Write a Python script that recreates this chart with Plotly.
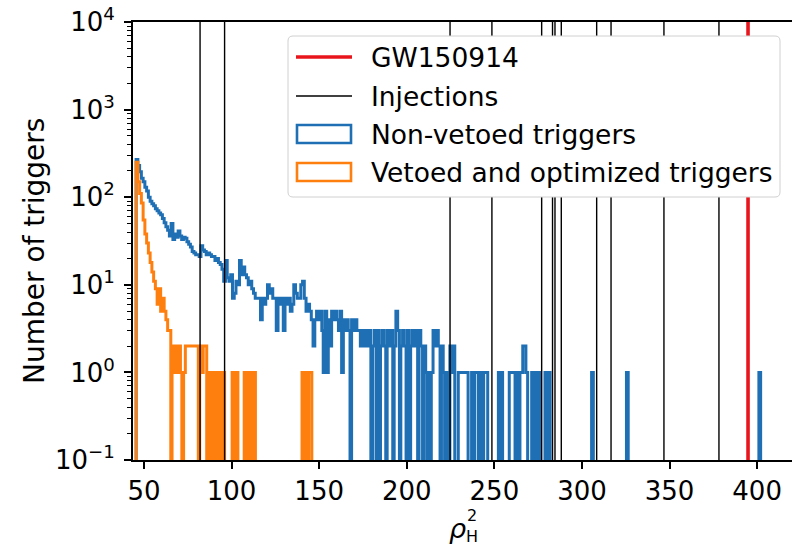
import plotly.graph_objects as go

# ---------------- data ----------------
injections = [82.0, 96.0, 224.7, 248.6, 277.0, 283.2, 284.6, 288.2, 308.4, 316.6, 346.8, 378.2]
gw150914 = 394.8

# step-histogram outlines: left edge of each run and the count in that run (0 = empty)
blue_edges = [45.5, 46.5, 47.5, 48.5, 49.5, 50.5, 51.5, 52.5, 53.5, 54.5, 55.5, 56.5, 57.5, 58.5, 59.5,
              60.5, 61.5, 62.5, 63.5, 64.5, 65.5, 66.5, 67.5, 68.5, 69.5, 70.5, 71.5, 72.5, 73.5, 74.5,
              75.5, 76.5, 77.5, 78.5, 79.5, 80.5, 81.5, 82.5, 83.5, 84.5, 85.5, 86.5, 87.5, 88.5, 89.5,
              90.5, 91.5, 92.5, 93.5, 94.5, 95.5, 96.5, 97.5, 98.5, 99.5, 100.5, 101.5, 102.5, 103.5, 104.5,
              105.5, 106.5, 107.5, 108.5, 109.5, 110.5, 111.5, 112.5, 113.5, 114.5, 115.5, 116.5, 117.5, 118.5, 119.5,
              120.5, 121.5, 122.5, 123.5, 124.5, 125.5, 126.5, 127.5, 128.5, 129.5, 130.5, 131.5, 132.5, 133.5, 134.5,
              135.5, 136.5, 137.5, 138.5, 139.5, 140.5, 141.5, 142.5, 143.5, 144.5, 145.5, 146.5, 147.5, 148.5, 149.5,
              150.5, 151.5, 152.3, 153.3, 154.3, 155.2, 156.2, 157.1, 158.1, 159.0, 160.0, 161.0, 161.9, 162.8, 163.8,
              164.8, 165.7, 166.6, 167.6, 168.5, 169.5, 170.5, 171.5, 172.5, 173.5, 174.5, 175.5, 176.5, 177.5, 178.5,
              179.5, 180.5, 181.5, 182.5, 183.3, 184.2, 185.0, 186.0, 187.0, 188.0, 188.8, 190.0, 191.0, 192.0, 192.8,
              193.8, 194.8, 195.8, 196.6, 197.6, 198.6, 199.6, 200.4, 201.4, 202.2, 203.2, 204.2, 205.2, 206.2, 207.0,
              208.0, 209.0, 209.8, 210.8, 211.6, 212.4, 213.2, 214.0, 215.0, 216.0, 217.0, 218.0, 219.0, 219.8, 220.8,
              221.6, 222.4, 223.4, 224.6, 225.6, 226.4, 227.4, 229.4, 235.0, 237.0, 238.0, 238.8, 240.9, 242.2, 243.2,
              243.9, 246.2, 252.3, 253.2, 253.8, 254.7, 258.5, 261.8, 263.0, 264.0, 264.6, 266.2, 268.0, 269.0, 271.3,
              272.2, 272.9, 274.0, 274.7, 276.4, 278.9, 279.8, 280.5, 281.8, 305.5, 306.5, 325.4, 326.4, 401.0, 402.0]
blue_counts = [270, 230, 195, 165, 150, 130, 118, 100, 90, 84, 80, 74, 70, 66, 63,
               57, 51, 46, 42, 36, 50, 33, 38, 35, 41, 36, 33, 35, 34, 31,
               29, 27, 24, 23, 22, 22, 21, 28, 25, 24, 22, 23, 22, 21, 21,
               19, 20, 18, 17, 15, 11, 19, 12, 11, 13, 7, 8, 11, 10, 19,
               13, 16, 13, 12, 10, 11, 9, 8, 7, 7, 7, 4, 7, 6, 7,
               10, 8, 9, 7, 7, 3, 7, 6, 7, 3, 7, 6, 7, 5, 6,
               10, 8, 7, 7, 10, 11, 7, 5, 6, 5, 4, 2, 4, 5, 4,
               5, 3, 1, 5, 1, 4, 2, 5, 4, 5, 4, 3, 5, 1, 4,
               3, 4, 3, 0, 4, 3, 4, 3, 3, 2, 3, 2, 3, 2, 3,
               0, 2, 3, 0, 3, 0, 2, 3, 2, 0, 3, 2, 3, 0, 2,
               5, 3, 0, 2, 3, 2, 0, 3, 0, 2, 3, 2, 3, 0, 3,
               2, 0, 2, 1, 0, 1, 0, 1, 3, 2, 3, 2, 0, 2, 1,
               0, 1, 0, 2, 1, 2, 0, 1, 0, 1, 0, 1, 0, 1, 0,
               1, 0, 1, 0, 1, 0, 1, 0, 1, 0, 1, 2, 1, 0, 1,
               0, 1, 0, 1, 0, 1, 0, 1, 0, 1, 0, 1, 0, 1, 0]

orange_edges = [45.5, 46.5, 47.5, 48.5, 49.5, 50.5, 51.5, 52.5, 53.5, 54.5, 55.5, 56.5, 57.5, 58.5, 59.5,
                60.5, 61.5, 62.5, 63.5, 64.5, 65.3, 66.0, 67.2, 67.8, 69.2, 69.8, 70.8, 71.6, 72.6, 73.6,
                81.0, 81.8, 83.2, 83.8, 85.8, 87.0, 87.8, 88.4, 89.4, 90.0, 91.0, 91.6, 92.6, 93.2, 94.2,
                94.8, 96.0, 100.3, 101.4, 102.0, 103.6, 107.2, 108.2, 108.7, 109.5, 110.9, 111.8, 112.4, 113.6, 140.2,
                141.4, 142.0, 142.8, 144.0, 145.8]
orange_counts = [250, 150, 110, 86, 55, 38, 30, 23, 18, 14, 11, 9, 6, 9, 5,
                 7, 5, 4, 3, 3, 0, 2, 1, 2, 1, 2, 1, 0, 1, 2,
                 0, 2, 1, 2, 0, 1, 0, 1, 0, 1, 0, 1, 0, 1, 0,
                 1, 0, 1, 0, 1, 0, 1, 0, 1, 0, 1, 0, 1, 0, 1,
                 0, 1, 0, 1, 0]

x_ticks = [50, 100, 150, 200, 250, 300, 350, 400]
y_ticks = [0.1, 1, 10, 100, 1000, 10000]
y_tick_text = ["10<sup>\u22121</sup>", "10<sup>0</sup>", "10<sup>1</sup>", "10<sup>2</sup>",
               "10<sup>3</sup>", "10<sup>4</sup>"]
x_range = [43.72, 419.9]
y_range_log = [-1, 4]

legend_labels = ["GW150914", "Injections", "Non-vetoed triggers", "Vetoed and optimized triggers"]

BLUE = "#1f6fb4"
ORANGE = "#ff7f0e"
RED = "#e8161c"
FONT = "DejaVu Sans"

# ---------------- layout geometry (pixels) ----------------
W, H = 792, 546
ML, MR, MT, MB = 133, 0, 22, 86
PW, PH = W - ML - MR, H - MT - MB


def pxx(x):
    return (x - ML) / PW


def pxy(y):
    return (H - MB - y) / PH


FLOOR = 1e-3  # below the visible range, so empty bins run along the bottom (clipped)


def step_xy(edges, counts):
    xs = [edges[0]] + list(edges)
    ys = [FLOOR] + [c if c > 0 else FLOOR for c in counts]
    return xs, ys


fig = go.Figure()

bx, by = step_xy(blue_edges, blue_counts)
fig.add_trace(go.Scatter(x=bx, y=by, mode="lines", line=dict(color=BLUE, width=3, shape="hv"),
                         showlegend=False, hoverinfo="skip"))
ox, oy = step_xy(orange_edges, orange_counts)
fig.add_trace(go.Scatter(x=ox, y=oy, mode="lines", line=dict(color=ORANGE, width=3, shape="hv"),
                         showlegend=False, hoverinfo="skip"))

ix, iy = [], []
for v in injections:
    ix += [v, v, None]
    iy += [FLOOR, 1e6, None]
fig.add_trace(go.Scatter(x=ix, y=iy, mode="lines", line=dict(color="black", width=1.4),
                         showlegend=False, hoverinfo="skip"))
fig.add_trace(go.Scatter(x=[gw150914, gw150914], y=[FLOOR, 1e6], mode="lines",
                         line=dict(color=RED, width=3.6), showlegend=False, hoverinfo="skip"))

# ---------------- manual legend ----------------
lx0, lx1, ly0, ly1, r = 288, 780, 36, 197, 5
pts = (f"M {pxx(lx0 + r)},{pxy(ly0)} L {pxx(lx1 - r)},{pxy(ly0)} "
       f"Q {pxx(lx1)},{pxy(ly0)} {pxx(lx1)},{pxy(ly0 + r)} "
       f"L {pxx(lx1)},{pxy(ly1 - r)} Q {pxx(lx1)},{pxy(ly1)} {pxx(lx1 - r)},{pxy(ly1)} "
       f"L {pxx(lx0 + r)},{pxy(ly1)} Q {pxx(lx0)},{pxy(ly1)} {pxx(lx0)},{pxy(ly1 - r)} "
       f"L {pxx(lx0)},{pxy(ly0 + r)} Q {pxx(lx0)},{pxy(ly0)} {pxx(lx0 + r)},{pxy(ly0)} Z")
shapes = [dict(type="path", path=pts, xref="paper", yref="paper", fillcolor="white",
               line=dict(color="#d0d0d0", width=1), layer="above")]
shapes.append(dict(type="line", xref="paper", yref="paper", x0=pxx(296), x1=pxx(352), y0=pxy(57), y1=pxy(57),
                   line=dict(color=RED, width=3.6), layer="above"))
shapes.append(dict(type="line", xref="paper", yref="paper", x0=pxx(296), x1=pxx(352), y0=pxy(96), y1=pxy(96),
                   line=dict(color="black", width=1.4), layer="above"))
shapes.append(dict(type="rect", xref="paper", yref="paper", x0=pxx(297), x1=pxx(351), y0=pxy(125), y1=pxy(143),
                   line=dict(color=BLUE, width=2.6), fillcolor="rgba(0,0,0,0)", layer="above"))
shapes.append(dict(type="rect", xref="paper", yref="paper", x0=pxx(297), x1=pxx(351), y0=pxy(163), y1=pxy(181),
                   line=dict(color=ORANGE, width=2.6), fillcolor="rgba(0,0,0,0)", layer="above"))

annotations = []
for lab, yc in zip(legend_labels, [57, 96, 134, 172]):
    annotations.append(dict(text=lab, xref="paper", yref="paper", x=pxx(369), y=pxy(yc),
                            xanchor="left", yanchor="middle", showarrow=False,
                            font=dict(family=FONT, size=26.5, color="black")))

# axis titles
annotations.append(dict(text="Number of triggers", xref="paper", yref="paper", x=pxx(35), y=pxy(251),
                        textangle=-90, xanchor="center", yanchor="middle", showarrow=False,
                        font=dict(family=FONT, size=28, color="black")))
annotations.append(dict(text="<i>\u03c1</i>", xref="paper", yref="paper", x=pxx(457), y=pxy(528),
                        xanchor="center", yanchor="middle", showarrow=False,
                        font=dict(family=FONT, size=27, color="black")))
annotations.append(dict(text="2<br>H", xref="paper", yref="paper", x=pxx(472), y=pxy(526),
                        xanchor="center", yanchor="middle", showarrow=False, align="center",
                        font=dict(family=FONT, size=16, color="black")))

minor_vals = [k * 10 ** e for e in range(-1, 4) for k in range(2, 10)]

fig.update_layout(
    width=W, height=H,
    margin=dict(l=ML, r=MR, t=MT, b=MB, autoexpand=False),
    paper_bgcolor="white", plot_bgcolor="white",
    showlegend=False,
    shapes=shapes, annotations=annotations,
    font=dict(family=FONT, color="black"),
    xaxis=dict(range=x_range, tickmode="array", tickvals=x_ticks, ticks="outside", ticklen=7, tickwidth=1.6,
               tickcolor="black", showline=True, linecolor="black", linewidth=2, mirror=True,
               showgrid=False, zeroline=False, ticklabelstandoff=0,
               tickfont=dict(family=FONT, size=26, color="black")),
    yaxis=dict(type="log", range=y_range_log, tickmode="array", tickvals=y_ticks, ticktext=y_tick_text,
               ticks="outside", ticklen=7, tickwidth=1.6, tickcolor="black",
               showline=True, linecolor="black", linewidth=2, mirror=False, ticklabelstandoff=4,
               showgrid=False, zeroline=False, tickfont=dict(family=FONT, size=26, color="black"),
               minor=dict(tickmode="array", tickvals=minor_vals, ticks="outside", ticklen=4,
                          tickwidth=1, tickcolor="black", showgrid=False)),
)

fig.write_html("out.html")
